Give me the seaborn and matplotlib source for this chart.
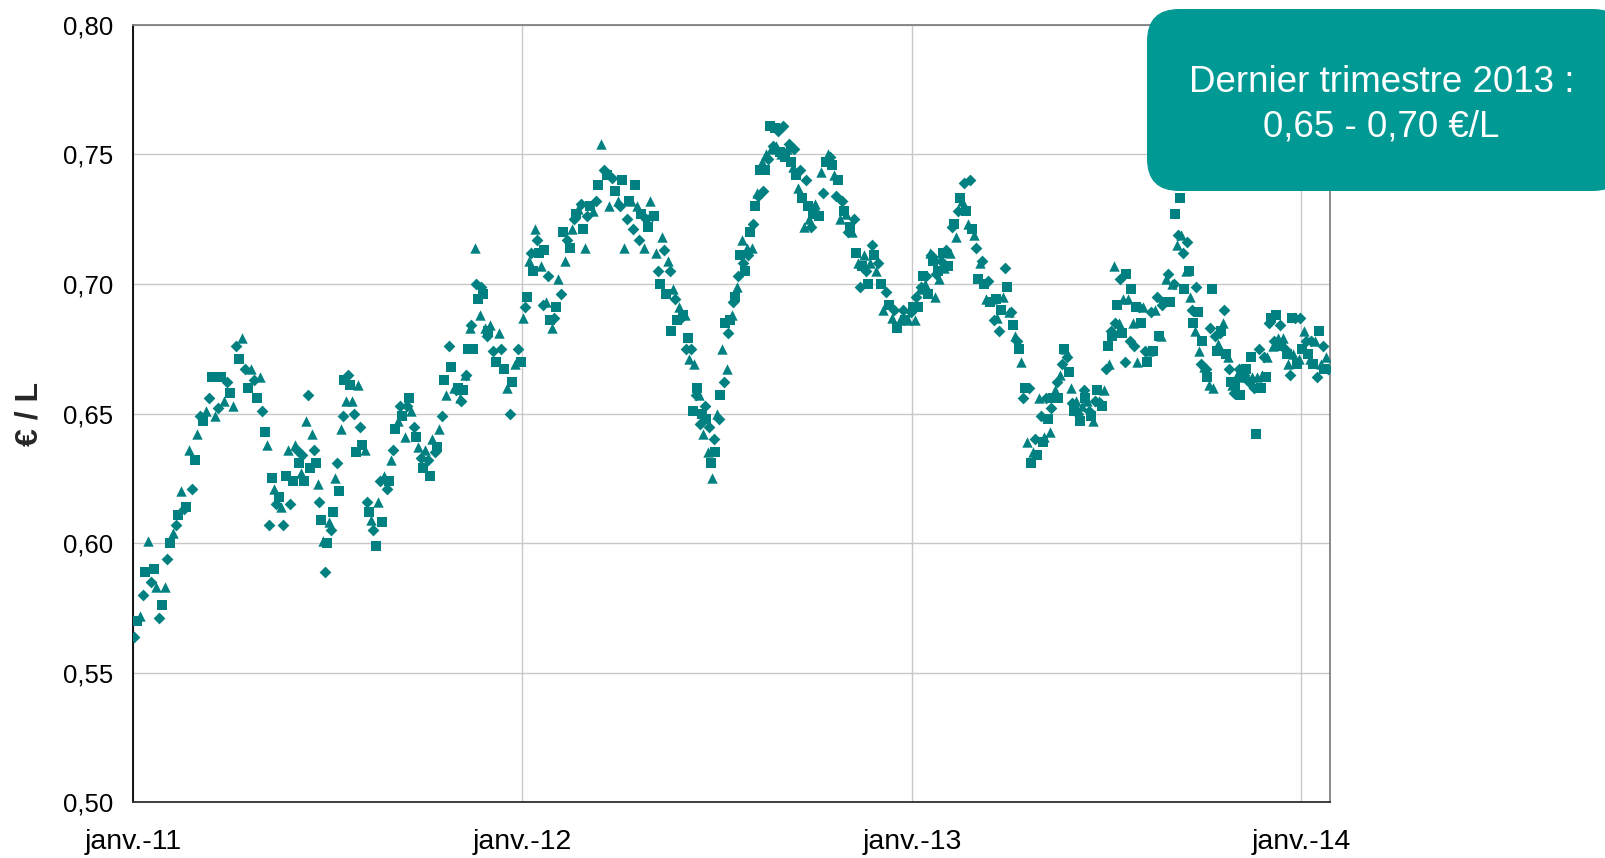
import numpy as np
import pandas as pd
import matplotlib
matplotlib.use("Agg")
import matplotlib.pyplot as plt
from matplotlib.patches import FancyBboxPatch
from matplotlib.ticker import FuncFormatter
import seaborn as sns

# ---- Données : prix (€/L), relevés par mois (janv. 2011 -> janv. 2014) ----
prix_2011 = [
    [0.564, 0.570, 0.572, 0.580, 0.589, 0.601, 0.585, 0.590, 0.583, 0.571, 0.576, 0.583],
    [0.594, 0.600, 0.604, 0.607, 0.611, 0.620, 0.613, 0.614, 0.636, 0.621, 0.632],
    [0.642, 0.649, 0.647, 0.651, 0.656, 0.664, 0.649, 0.652, 0.664, 0.655, 0.662],
    [0.658, 0.653, 0.676, 0.671, 0.679, 0.667, 0.660, 0.667, 0.663, 0.656, 0.664],
    [0.651, 0.643, 0.638, 0.607, 0.625, 0.621, 0.615, 0.618, 0.614, 0.607, 0.626, 0.636, 0.615, 0.624],
    [0.638, 0.636, 0.631, 0.627, 0.634, 0.624, 0.647, 0.657, 0.629, 0.642, 0.636, 0.631, 0.623,
     0.616, 0.609, 0.601, 0.589],
    [0.600, 0.608, 0.605, 0.612, 0.625, 0.631, 0.620, 0.644, 0.649, 0.663, 0.655, 0.665, 0.661,
     0.655, 0.650, 0.635, 0.661],
    [0.645, 0.638, 0.636, 0.616, 0.612, 0.609, 0.605, 0.599, 0.616, 0.624, 0.608, 0.626, 0.621,
     0.624, 0.632],
    [0.636, 0.644, 0.647, 0.653, 0.649, 0.641, 0.653, 0.656, 0.651, 0.645, 0.641, 0.637, 0.633, 0.629],
    [0.636, 0.632, 0.626, 0.640, 0.635, 0.637, 0.644, 0.649, 0.663, 0.657, 0.676, 0.668, 0.660, 0.659],
    [0.660, 0.656, 0.655, 0.659, 0.665, 0.665, 0.675, 0.683, 0.684, 0.675, 0.714, 0.700, 0.694,
     0.688, 0.699, 0.696, 0.683, 0.680, 0.682],
    [0.684, 0.674, 0.670, 0.681, 0.675, 0.667, 0.660, 0.650, 0.662, 0.669, 0.675, 0.670],
]
prix_2012 = [
    [0.687, 0.691, 0.695, 0.709, 0.712, 0.705, 0.721, 0.717, 0.712, 0.707, 0.692, 0.713, 0.693,
     0.703, 0.686, 0.683, 0.687],
    [0.691, 0.702, 0.696, 0.720, 0.709, 0.717, 0.714, 0.721, 0.725, 0.727, 0.729, 0.731, 0.721, 0.714],
    [0.726, 0.730, 0.728, 0.732, 0.738, 0.754, 0.744, 0.742, 0.730, 0.741, 0.736, 0.732],
    [0.730, 0.740, 0.714, 0.725, 0.732, 0.732, 0.721, 0.738, 0.730, 0.717, 0.727, 0.714, 0.725,
     0.722, 0.732],
    [0.726, 0.726, 0.712, 0.705, 0.700, 0.718, 0.713, 0.696, 0.709, 0.705, 0.682, 0.698, 0.694,
     0.686, 0.691, 0.687, 0.688],
    [0.688, 0.675, 0.679, 0.671, 0.675, 0.651, 0.669, 0.657, 0.660, 0.657, 0.646, 0.650, 0.642,
     0.653, 0.648, 0.635, 0.645, 0.631, 0.625, 0.640, 0.635],
    [0.650, 0.648, 0.657, 0.675, 0.662, 0.685, 0.667, 0.681, 0.686, 0.688, 0.693, 0.695, 0.699,
     0.703, 0.711, 0.717, 0.708, 0.705, 0.714, 0.711],
    [0.720, 0.714, 0.723, 0.730, 0.735, 0.734, 0.744, 0.747, 0.736, 0.744, 0.750, 0.748, 0.761,
     0.752, 0.753, 0.760, 0.753, 0.759, 0.751, 0.750],
    [0.761, 0.749, 0.752, 0.754, 0.747, 0.745, 0.752, 0.742, 0.737, 0.744, 0.733, 0.722, 0.740,
     0.730, 0.725, 0.722, 0.727],
    [0.731, 0.727, 0.726, 0.743, 0.735, 0.747, 0.750, 0.749, 0.746, 0.742, 0.734, 0.740, 0.725,
     0.732, 0.728, 0.727],
    [0.720, 0.722, 0.720, 0.725, 0.712, 0.708, 0.699, 0.707, 0.711, 0.705, 0.700, 0.708, 0.715,
     0.711, 0.705, 0.708],
    [0.700, 0.690, 0.697, 0.692, 0.687, 0.690, 0.683, 0.686, 0.690, 0.686, 0.686, 0.689],
]
prix_2013 = [
    [0.691, 0.686, 0.695, 0.691, 0.698, 0.699, 0.703, 0.700, 0.703, 0.696, 0.712, 0.711, 0.709,
     0.695, 0.704, 0.705, 0.702, 0.709, 0.712, 0.706],
    [0.713, 0.707, 0.712, 0.722, 0.723, 0.718, 0.728, 0.733, 0.732, 0.739, 0.728, 0.723, 0.740,
     0.721, 0.719],
    [0.714, 0.702, 0.708, 0.709, 0.700, 0.694, 0.701, 0.693, 0.694, 0.686, 0.694, 0.687, 0.682,
     0.690, 0.695, 0.706, 0.699],
    [0.689, 0.689, 0.684, 0.680, 0.678, 0.675, 0.670, 0.656, 0.660, 0.639, 0.660, 0.631, 0.635,
     0.640, 0.634, 0.656],
    [0.649, 0.639, 0.641, 0.656, 0.648, 0.643, 0.652, 0.656, 0.659, 0.662, 0.656, 0.665, 0.669,
     0.675, 0.675, 0.672, 0.666, 0.660, 0.654],
    [0.651, 0.655, 0.650, 0.647, 0.653, 0.659, 0.656, 0.655, 0.651, 0.649, 0.647, 0.655, 0.659,
     0.655, 0.654, 0.653, 0.659],
    [0.667, 0.676, 0.669, 0.682, 0.680, 0.707, 0.685, 0.692, 0.685, 0.702, 0.681, 0.694, 0.670,
     0.704, 0.694, 0.678, 0.698, 0.685, 0.676, 0.691, 0.670],
    [0.691, 0.685, 0.691, 0.674, 0.670, 0.674, 0.689, 0.674, 0.690, 0.695, 0.680, 0.680, 0.692,
     0.693, 0.702, 0.704, 0.693],
    [0.700, 0.700, 0.727, 0.715, 0.719, 0.733, 0.719, 0.712, 0.698, 0.705, 0.716, 0.705, 0.695,
     0.690, 0.685, 0.682, 0.699, 0.689, 0.674, 0.669, 0.678],
    [0.668, 0.667, 0.664, 0.661, 0.683, 0.698, 0.660, 0.680, 0.674, 0.677, 0.681, 0.682, 0.685,
     0.690, 0.673, 0.672, 0.667, 0.662, 0.661, 0.658, 0.661],
    [0.665, 0.667, 0.657, 0.664, 0.665, 0.667, 0.664, 0.662, 0.672, 0.664, 0.660, 0.642, 0.664,
     0.675, 0.660, 0.665, 0.672, 0.664, 0.672],
    [0.685, 0.687, 0.676, 0.678, 0.688, 0.679, 0.684, 0.676, 0.679, 0.675, 0.673, 0.669, 0.665,
     0.687, 0.673, 0.687, 0.669, 0.671, 0.687],
]
prix_2014 = [
    [0.675, 0.682, 0.678, 0.673, 0.671, 0.678, 0.669, 0.678, 0.664, 0.682, 0.669, 0.676, 0.667,
     0.672, 0.667],
]
debut = "2011-01-01"
fin_donnees = "2014-01-27"
fin_axe = "2014-01-28"
series = ["A", "B", "C"]
ticks_x = ["2011-01-01", "2012-01-01", "2013-01-01", "2014-01-01"]
labels_x = ["janv.-11", "janv.-12", "janv.-13", "janv.-14"]
ticks_y = [0.50, 0.55, 0.60, 0.65, 0.70, 0.75, 0.80]
texte_encadre = "Dernier trimestre 2013 :\n0,65 - 0,70 €/L"

# ---- Construction du tableau ----
mois = prix_2011 + prix_2012 + prix_2013 + prix_2014
t0 = pd.Timestamp(debut)
tfin = pd.Timestamp(fin_donnees)
dates, valeurs = [], []
for k, vals in enumerate(mois):
    d0 = t0 + pd.DateOffset(months=k)
    d1 = min(d0 + pd.DateOffset(months=1), tfin)
    n = len(vals)
    for i, v in enumerate(vals):
        dates.append(d0 + (d1 - d0) * ((i + 0.5) / n))
        valeurs.append(v)
df = pd.DataFrame({"date": dates, "prix": valeurs})
df["serie"] = [series[i % 3] for i in range(len(df))]

# ---- Style ----
sns.set_theme(style="white")
plt.rcParams["font.family"] = ["Liberation Sans", "DejaVu Sans"]

fig = plt.figure(figsize=(16.05, 8.58), dpi=100)
ax = fig.add_axes([0.0829, 0.0647, 0.7458, 0.9066])

teal = "#008080"
marqueurs = {"A": ("D", 36), "B": ("s", 46), "C": ("^", 56)}
for s in series:
    m, taille = marqueurs[s]
    sns.scatterplot(data=df[df["serie"] == s], x="date", y="prix", marker=m, s=taille,
                    color=teal, linewidth=0, ax=ax, legend=False, zorder=3)

ax.set_xlim(pd.Timestamp(debut), pd.Timestamp(fin_axe))
ax.set_ylim(ticks_y[0], ticks_y[-1])
ax.set_xticks([pd.Timestamp(t) for t in ticks_x])
ax.set_xticklabels(labels_x)
ax.set_yticks(ticks_y)
ax.yaxis.set_major_formatter(FuncFormatter(lambda v, p: f"{v:.2f}".replace(".", ",")))

ax.grid(True, color="#C8C8C8", linewidth=1.0, zorder=0)
ax.set_axisbelow(True)
ax.tick_params(axis="both", which="major", colors="#000000",
               direction="out", length=6, width=1, pad=8)
ax.tick_params(axis="y", color="#808080", labelsize=18.5)
ax.tick_params(axis="x", color="#404040", pad=13, labelsize=20.5)

ax.spines["left"].set_color("#000000")
ax.spines["bottom"].set_color("#303030")
ax.spines["top"].set_color("#808080")
ax.spines["right"].set_color("#808080")
for sp in ax.spines.values():
    sp.set_linewidth(1.3)
    sp.set_visible(True)

ax.set_xlabel("")
ax.set_ylabel("€ / L", fontsize=23, fontweight="bold")
ax.yaxis.set_label_coords(-0.074, 0.5)

# ---- Encadré ----
W, H = 1605, 858
boite = FancyBboxPatch((1147 / W, 1 - 191 / H), (W + 20 - 1147) / W, (191 - 9) / H,
                       boxstyle="round,pad=0,rounding_size=0.02",
                       mutation_aspect=W / H, transform=fig.transFigure,
                       facecolor="#009994", edgecolor="none", zorder=5)
fig.patches.append(boite)
fig.text(1381.5 / W, 1 - 105 / H, texte_encadre, ha="center", va="center",
         fontsize=26.5, color="white", linespacing=1.35, zorder=6)

fig.savefig("out.png", dpi=100)
